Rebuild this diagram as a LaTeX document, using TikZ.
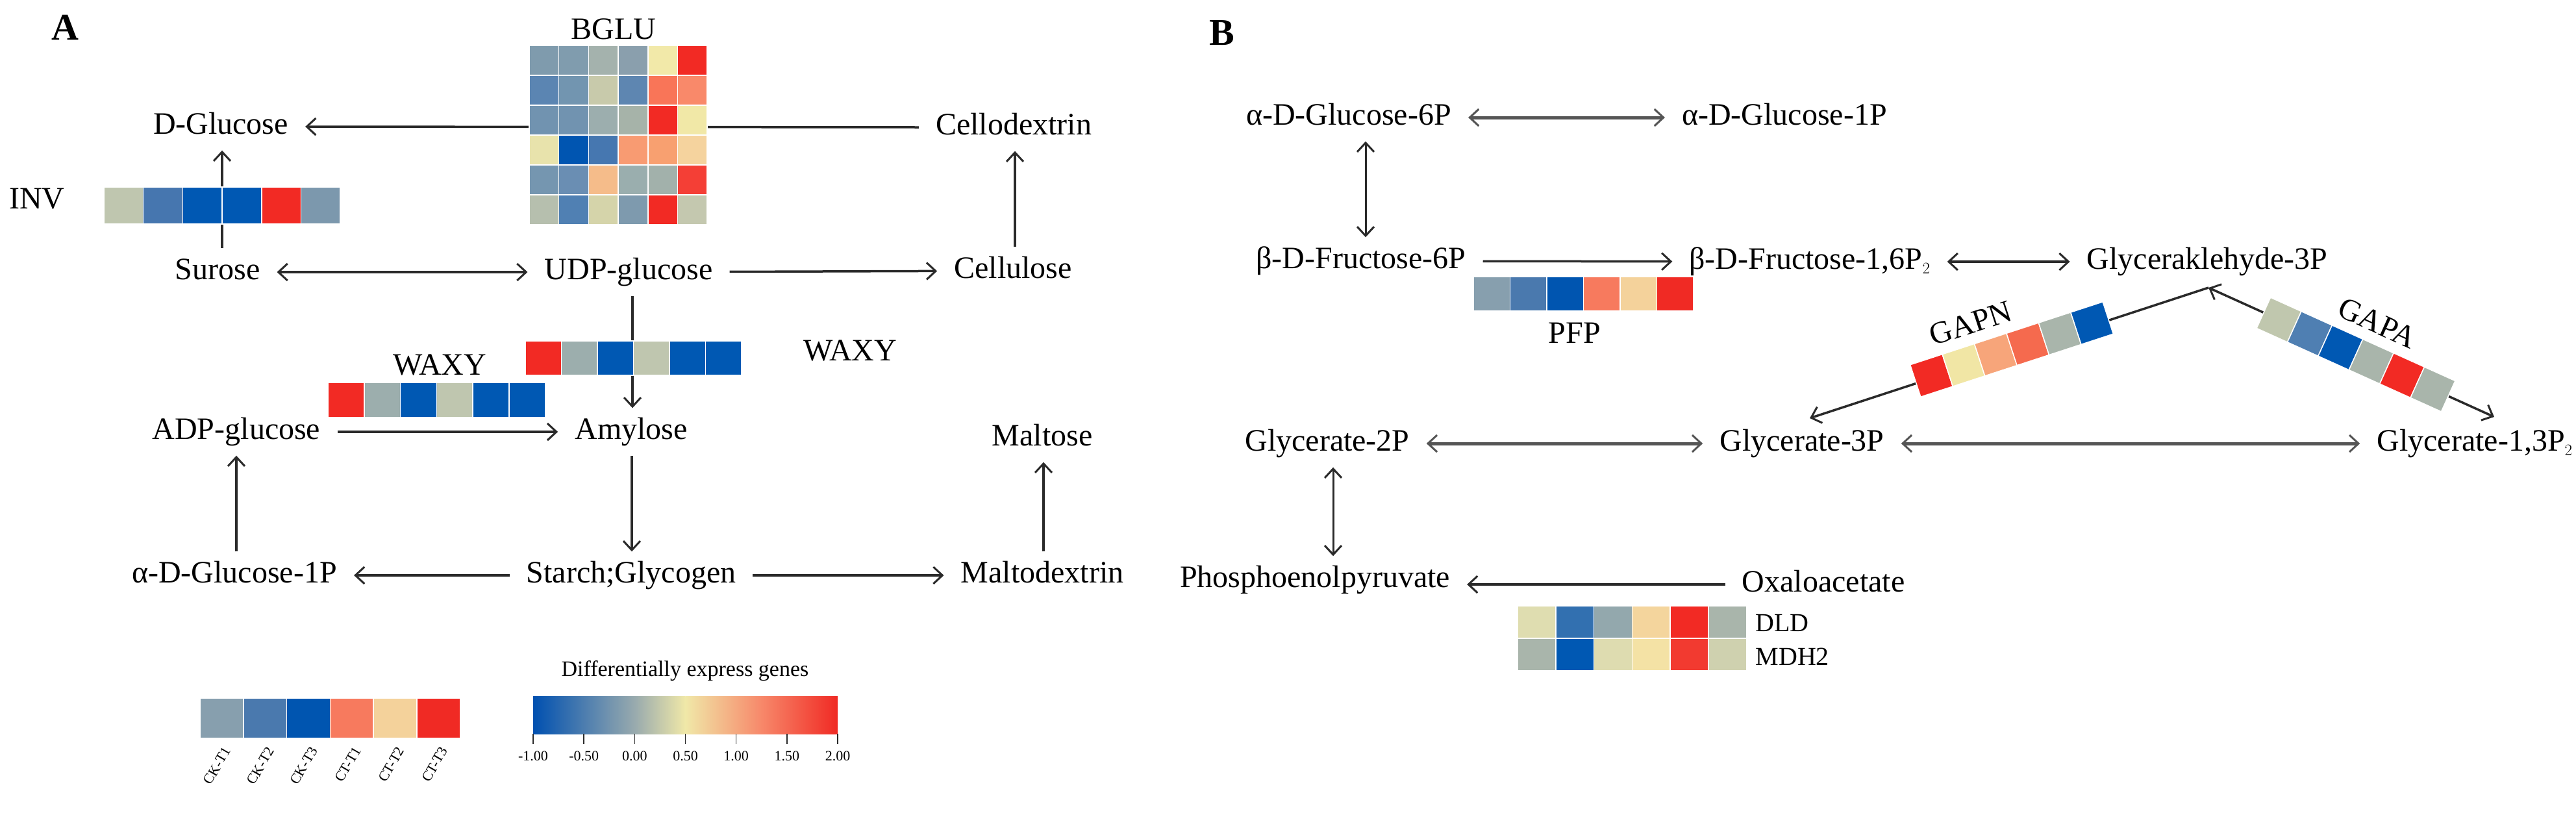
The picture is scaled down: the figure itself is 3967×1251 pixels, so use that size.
\documentclass[tikz,border=0pt]{standalone}
\usepackage{fontspec}
\setmainfont{Liberation Serif}
\usetikzlibrary{arrows.meta}
\definecolor{c0}{HTML}{0050B0}
\definecolor{cA}{HTML}{98AAAE}
\definecolor{cB}{HTML}{F0E8A8}
\definecolor{cC}{HTML}{F7886A}
\definecolor{c6}{HTML}{F02A24}
\definecolor{ln}{HTML}{2A2A2A}
\definecolor{lg}{HTML}{555555}
\newcommand\hmrow[5]{%
 \foreach \c [count=\i from 0] in {#5} {\definecolor{hc}{HTML}{\c}\fill[hc,draw=white,line width=1.5pt] ({#1+\i*#3},#2) rectangle ++(#3,#4);}}
\begin{document}
\begin{tikzpicture}[x=1pt,y=-1pt,
  every node/.style={font=\fontsize{48}{56}\selectfont},
  met/.style={inner xsep=26pt,inner ysep=14pt,text height=34pt,text depth=11pt},
  ar/.style={draw=ln,line width=3.5pt,-{Straight Barb[length=14pt,width=26pt,line width=3pt]}},
  dar/.style={draw=ln,line width=3.5pt,{Straight Barb[length=14pt,width=26pt,line width=3pt]}-{Straight Barb[length=14pt,width=26pt,line width=3pt]}},
  gar/.style={dar,draw=lg,line width=5pt},
  small/.style={font=\fontsize{40}{46}\selectfont}]
\useasboundingbox (0,0) rectangle (3967,1251);
% ---- Panel A nodes
\node[font=\fontsize{58}{60}\selectfont\bfseries] (A) at (100,42) {A};
\node (bglu) at (945,45) {BGLU};
\node[met] (dglc) at (340,195) {D-Glucose};
\node[met] (cdex) at (1561,196) {Cellodextrin};
\node (inv) at (57,306) {INV};
\node[met] (sur) at (335,419) {Surose};
\node[met] (udp) at (968,419) {UDP-glucose};
\node[met] (cell) at (1560,417) {Cellulose};
\node (waxr) at (1309,540) {WAXY};
\node (waxl) at (677,562) {WAXY};
\node[met] (adp) at (364,665) {ADP-glucose};
\node[met] (amy) at (972,665) {Amylose};
\node[met] (malt) at (1605,675) {Maltose};
\node[met] (a1p) at (361,886) {α-D-Glucose-1P};
\node[met] (star) at (972,886) {Starch;Glycogen};
\node[met] (mdex) at (1605,886) {Maltodextrin};
% ---- Panel A connectors
\draw[ar] (cdex.west) -- (dglc.east);
\draw[ar] (sur.north -| 342,0) -- (dglc.south -| 342,0);
\draw[dar] (sur) -- (udp);
\draw[ar] (udp) -- (cell);
\draw[ar] (cell.north -| 1563,0) -- (cdex.south -| 1563,0);
\draw[ar] (udp.south -| 974,0) -- (amy.north -| 974,0);
\draw[ar] (adp) -- (amy);
\draw[ar] (a1p.north -| 364,0) -- (adp.south -| 364,0);
\draw[ar] (amy.south -| 973,0) -- (star.north -| 973,0);
\draw[ar] (star) -- (a1p);
\draw[ar] (star) -- (mdex);
\draw[ar] (mdex.north -| 1607,0) -- (malt.south -| 1607,0);
% ---- Panel A heatmaps
\hmrow{815}{70}{45.7}{46}{7F9BAD,809CAE,A4B2AD,8A9FAD,F2E9A9,F22A24}
\hmrow{815}{116}{45.7}{46}{5B85B2,7295B0,C8CAAB,5E86B1,F97558,F9896A}
\hmrow{815}{162}{45.7}{46}{7193B0,7193B0,9CAEAE,A6B3A9,F22A24,F1E8A7}
\hmrow{815}{208}{45.7}{46}{E8E3AC,0055B1,4677B0,F89B72,F8A070,F5D39E}
\hmrow{815}{254}{45.7}{46}{7596B0,6A8EB3,F5BC8A,9AAEAE,A2B1AB,F43F36}
\hmrow{815}{300}{45.7}{46}{B6BFAE,5080B3,D5D4AA,7E9AAE,F22A24,C4C8AF}
\hmrow{160}{288}{60.7}{57}{BFC6AF,4676AF,0058B3,0058B3,F22A24,7C98AD}
\hmrow{809}{525}{55.5}{53}{F22A24,9CAEAD,0058B3,BFC6AF,0058B3,0058B3}
\hmrow{505}{589}{55.8}{54}{F22A24,9CAEAD,0058B3,BFC6AF,0058B3,0058B3}
% ---- legend
\hmrow{308}{1075}{66.8}{62}{879FAE,4A79AE,0055B0,F77A5E,F4D29B,F02A24}
\foreach \t [count=\i from 0] in {CK-T1,CK-T2,CK-T3,CT-T1,CT-T2,CT-T3}
  \node[font=\fontsize{22}{26}\selectfont,rotate=60,anchor=east,inner sep=0pt] (lab\i) at ({308+66.8*\i+42},1152) {\t};
\node[font=\fontsize{34}{40}\selectfont] (dtitle) at (1055,1033) {Differentially express genes};
\shade[left color=c0,right color=cA] (821,1072) rectangle (977.3,1130);
\shade[left color=cA,right color=cB] (977,1072) rectangle (1055.6,1130);
\shade[left color=cB,right color=cC] (1055.3,1072) rectangle (1172.9,1130);
\shade[left color=cC,right color=c6] (1172.6,1072) rectangle (1290,1130);
\foreach \t [count=\i from 0] in {-1.00,-0.50,0.00,0.50,1.00,1.50,2.00}{
  \draw[line width=1.5pt,ln] ({821+78.17*\i},1130) -- ({821+78.17*\i},1146);
  \node[font=\fontsize{22}{26}\selectfont] (tk\i) at ({821+78.17*\i},1164) {\t};}
% ---- Panel B nodes
\node[font=\fontsize{58}{60}\selectfont\bfseries] (B) at (1882,51) {B};
\node[met] (g6p) at (2077,181) {α-D-Glucose-6P};
\node[met] (g1p) at (2748,181) {α-D-Glucose-1P};
\node[met] (f6p) at (2096,402) {β-D-Fructose-6P};
\node[met] (f16) at (2787,403) {β-D-Fructose-1,6P$_2$};
\node[met] (gap3) at (3399,403) {Glyceraklehyde-3P};
\node (pfp) at (2425,513) {PFP};
\node[met] (gly2) at (2044,683) {Glycerate-2P};
\node[met] (gly3) at (2775,683) {Glycerate-3P};
\node[met] (gly13) at (3811,683) {Glycerate-1,3P$_2$};
\node[met] (pep) at (2025,893) {Phosphoenolpyruvate};
\node[met] (oxa) at (2808,900) {Oxaloacetate};
\node[small,anchor=west] (dld) at (2700,959) {DLD};
\node[small,anchor=west] (mdh) at (2700,1011) {MDH2};
\coordinate (apex) at (3401,443);
\coordinate (e3) at (2787,644);
\coordinate (e13) at (3841,642);
% ---- Panel B connectors
\draw[gar] (g6p) -- (g1p);
\draw[dar,line width=3pt] (g6p.south -| 2103,0) -- (f6p.north -| 2103,0);
\draw[ar] (f6p) -- (f16);
\draw[dar] (f16) -- (gap3);
\draw[ar] (apex) -- (e3);
\draw[dar] (e13) -- (apex);
\draw[gar] (gly2) -- (gly3);
\draw[gar] (gly3) -- (gly13);
\draw[dar,line width=3pt] (gly2.south -| 2053,0) -- (pep.north -| 2053,0);
\draw[ar] (oxa.west) -- (pep.east |- oxa.west);
% ---- Panel B heatmaps
\hmrow{2269}{426}{56.5}{53}{879FAE,4A79AE,0055B0,F77A5E,F4D29B,F02A24}
\hmrow{2337}{933}{58.8}{50}{DFDDB0,3270B0,93A8AD,F4D59D,F22A24,A9B5AB}
\hmrow{2337}{983}{58.8}{50}{A9B5AB,0058B3,DEDCB0,F4E2A5,F23A30,CFD1AF}
\begin{scope}[shift={(3098,538)},rotate=18.1]
 \hmrow{-156}{-26}{52}{52}{F22A24,F1E6A5,F7A57A,F56A4E,A9B5AB,0058B3}
 \node[transform shape] (gapn) at (-48,-58) {GAPN};
\end{scope}
\begin{scope}[shift={(3628,546)},rotate=-24.3]
 \hmrow{-156}{-26}{52}{52}{C0C7AE,4F7FB2,0058B3,A9B5AB,F22A24,A9B5AB}
 \node[transform shape] (gapa) at (10,-58) {GAPA};
\end{scope}
\end{tikzpicture}
\end{document}
